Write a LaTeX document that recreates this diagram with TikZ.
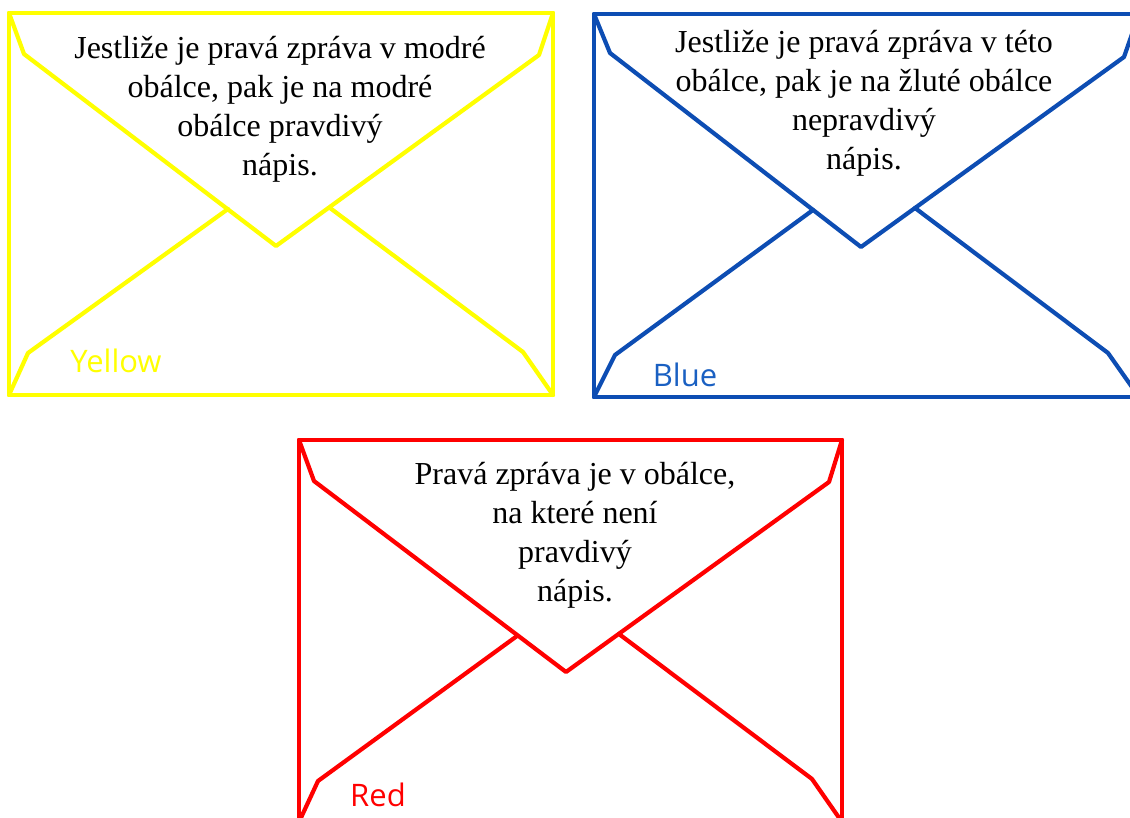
\documentclass[tikz,border=0pt]{standalone}
\usepackage{fontspec}
\setmainfont{Liberation Serif}
\newfontfamily\labelfont{Open Sans}
\definecolor{envyellow}{HTML}{FFFF00}
\definecolor{envblue}{HTML}{0D4DB3}
\definecolor{lblblue}{HTML}{1A60C2}
\definecolor{envred}{HTML}{FF0000}
\tikzset{
  frame/.style={line width=4.8pt, line join=round, line cap=round},
  flap/.style={line width=4.2pt, line join=round, line cap=round},
  msg/.style={align=center, anchor=north, inner sep=0pt, font=\fontsize{32}{39}\selectfont},
  lbl/.style={inner sep=0pt, font=\labelfont\fontsize{31}{36}\selectfont}
}
\begin{document}
\begin{tikzpicture}[x=1pt,y=-1pt]
\useasboundingbox (0,0) rectangle (1130,818);
\clip (0,0) rectangle (1130,818);
% Yellow envelope
\begin{scope}[draw=envyellow]
\draw[frame] (9,13) rectangle (553,395);
\draw[flap] (9,13) -- (24,54) -- (276,246) -- (539,55) -- (553,13);
\draw[flap] (9,395) -- (28,353) -- (228,209);
\draw[flap] (553,395) -- (523,352) -- (330,208);
\end{scope}
\node[msg] (ytext) at (280,30.7) {\strut Jestliže je pravá zpráva v modré\\obálce, pak je na modré\\obálce pravdivý\\nápis.};
\node[lbl, text=envyellow] (ylabel) at (116,361) {Yellow};
% Blue envelope
\begin{scope}[draw=envblue]
\draw[frame] (594,14) rectangle (1139,397);
\draw[flap] (594,14) -- (610,53) -- (861,247) -- (1124,57) -- (1139,14);
\draw[flap] (594,397) -- (615,355) -- (813,210);
\draw[flap] (1139,397) -- (1108,353) -- (915,208);
\end{scope}
\node[msg] (btext) at (864,24.7) {\strut Jestliže je pravá zpráva v této\\obálce, pak je na žluté obálce\\nepravdivý\\nápis.};
\node[lbl, text=lblblue] (blabel) at (685,375) {Blue};
% Red envelope
\begin{scope}[draw=envred]
\draw[frame] (299,440) rectangle (842,822);
\draw[flap] (299,440) -- (314,481) -- (566,672) -- (829,482) -- (842,440);
\draw[flap] (299,822) -- (318,781) -- (517,636);
\draw[flap] (842,822) -- (812,779) -- (619,634);
\end{scope}
\node[msg] (rtext) at (575,456.7) {\strut Pravá zpráva je v obálce,\\na které není\\pravdivý\\nápis.};
\node[lbl, text=envred] (rlabel) at (378,795) {Red};
\end{tikzpicture}
\end{document}
